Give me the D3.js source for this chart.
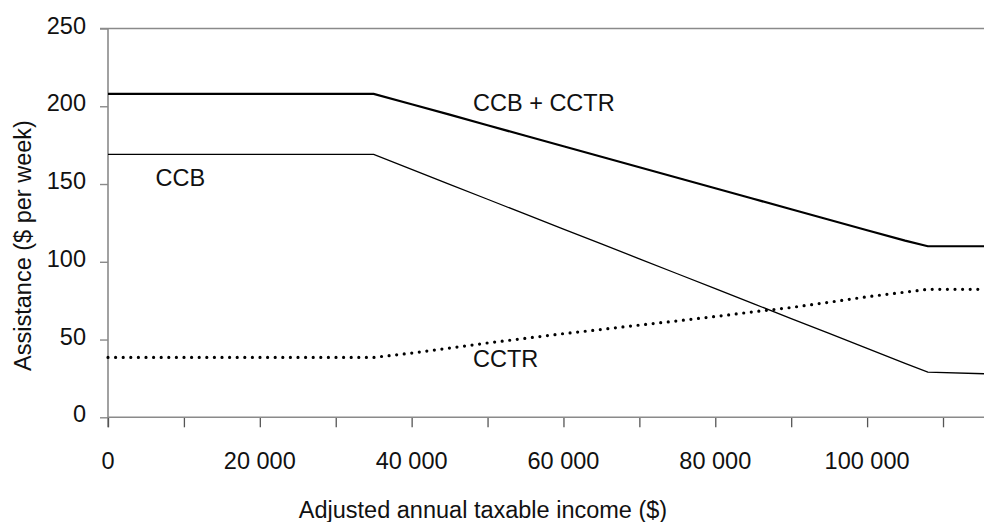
<!DOCTYPE html>
<html>
<head>
<meta charset="utf-8">
<script src="https://cdn.jsdelivr.net/npm/d3@7"></script>
<style>
  html, body { margin: 0; padding: 0; background: #fff; }
  svg { display: block; font-family: "Liberation Sans", Arial, sans-serif; }
</style>
</head>
<body>
<svg id="chart" width="984" height="522"></svg>
<script>
// ---- data ----
const income = [0, 35000, 40000, 45000, 50000, 55000, 60000, 65000, 70000, 75000,
                80000, 85000, 90000, 95000, 100000, 105000, 108000, 115400];
const ccbPlusCctr = [208, 208, 201.3, 194.6, 187.8, 181, 174.3, 167.5, 160.8, 154,
                     147.3, 140.5, 133.8, 127, 120.3, 113.6, 110, 110];
const ccb = [169, 169, 159.4, 149.8, 140.2, 130.6, 121, 111.5, 101.9, 92.3,
             82.7, 73.1, 63.5, 53.9, 44.3, 34.7, 29, 28];
const cctr = [38.5, 38.5, 41.3, 44.5, 47.8, 50.8, 53.8, 56.5, 59.3, 62,
              64.8, 67.8, 70.6, 74, 77.5, 80.5, 82.3, 82.3];
const xTickValues = [0, 10000, 20000, 30000, 40000, 50000, 60000, 70000, 80000, 90000, 100000, 110000];
const xLabelValues = [0, 20000, 40000, 60000, 80000, 100000];
const yTickValues = [0, 50, 100, 150, 200, 250];
const seriesLabels = ["CCB + CCTR", "CCB", "CCTR"];
const xTitle = "Adjusted annual taxable income ($)";
const yTitle = "Assistance ($ per week)";

// ---- layout ----
const svg = d3.select("#chart");
const x = d3.scaleLinear().domain([0, 115400]).range([108, 984]);
const y = d3.scaleLinear().domain([0, 250]).range([417.3, 28.5]);
const axisColor = "#8a8a8a";
const fontSize = "23.5px";

const fmt = v => v === 0 ? "0" : d3.format(",")(v).replace(/,/g, " ");

// top border line at 250
svg.append("line")
  .attr("x1", 100).attr("x2", 984)
  .attr("y1", y(250)).attr("y2", y(250))
  .attr("stroke", axisColor).attr("stroke-width", 1.6);

// y axis
const yAxis = d3.axisLeft(y).tickValues(yTickValues).tickSize(8).tickFormat("");
const gy = svg.append("g").attr("transform", `translate(${x(0)},0)`).call(yAxis);
gy.select(".domain").remove();
gy.selectAll(".tick line").attr("stroke", axisColor).attr("stroke-width", 1.4);
svg.append("line")
  .attr("x1", x(0)).attr("x2", x(0))
  .attr("y1", y(250)).attr("y2", y(0) + 10)
  .attr("stroke", axisColor).attr("stroke-width", 1.6);

svg.append("g").selectAll("text").data(yTickValues).join("text")
  .attr("x", 86).attr("y", d => y(d) + 5)
  .attr("text-anchor", "end")
  .attr("font-size", fontSize).attr("fill", "#111")
  .text(d => d);

// x axis
const xAxis = d3.axisBottom(x).tickValues(xTickValues).tickSize(10).tickFormat("");
const gx = svg.append("g").attr("transform", `translate(0,${y(0)})`).call(xAxis);
gx.select(".domain").remove();
gx.selectAll(".tick line").attr("stroke", "#555").attr("stroke-width", 1.3);
svg.append("line")
  .attr("x1", x(0)).attr("x2", 984)
  .attr("y1", y(0)).attr("y2", y(0))
  .attr("stroke", axisColor).attr("stroke-width", 1.6);

svg.append("g").selectAll("text").data(xLabelValues).join("text")
  .attr("x", d => x(d)).attr("y", 468.5)
  .attr("text-anchor", "middle")
  .attr("font-size", fontSize).attr("fill", "#111")
  .text(d => fmt(d));

// axis titles
svg.append("text")
  .attr("x", 483).attr("y", 517.5)
  .attr("text-anchor", "middle")
  .attr("font-size", fontSize).attr("fill", "#111")
  .text(xTitle);
svg.append("text")
  .attr("transform", "translate(30.5,245.5) rotate(-90)")
  .attr("text-anchor", "middle")
  .attr("font-size", fontSize).attr("fill", "#111")
  .text(yTitle);

// lines
const line = vals => d3.line().x((d, i) => x(income[i])).y(d => y(d))(vals);

svg.append("path").attr("d", line(ccbPlusCctr))
  .attr("fill", "none").attr("stroke", "#000").attr("stroke-width", 2.2);
svg.append("path").attr("d", line(ccb))
  .attr("fill", "none").attr("stroke", "#000").attr("stroke-width", 1.3);
svg.append("path").attr("d", line(cctr))
  .attr("fill", "none").attr("stroke", "#000").attr("stroke-width", 3.2)
  .attr("stroke-linecap", "round").attr("stroke-dasharray", "0,7.6");

// series labels
const labelPos = [[473, 111], [155.5, 186], [473, 367]];
svg.append("g").selectAll("text").data(seriesLabels).join("text")
  .attr("x", (d, i) => labelPos[i][0]).attr("y", (d, i) => labelPos[i][1])
  .attr("font-size", fontSize).attr("fill", "#111")
  .text(d => d);
</script>
</body>
</html>
